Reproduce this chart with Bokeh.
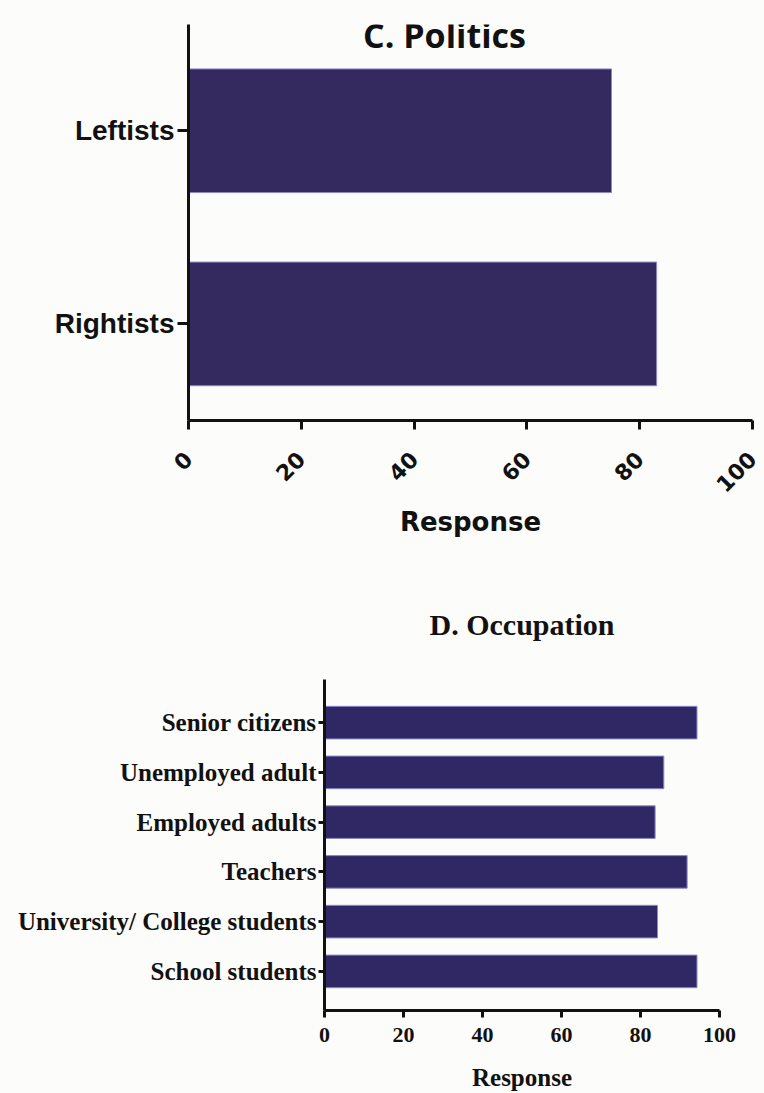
import math
from bokeh.plotting import figure
from bokeh.models import Range1d, FixedTicker, Label
from bokeh.layouts import column
from bokeh.embed import file_html
from bokeh.resources import INLINE

# ---------------- data ----------------
politics_categories = ["Leftists", "Rightists"]          # listed top to bottom
politics_values = [75, 83]

occupation_categories = ["Senior citizens", "Unemployed adult", "Employed adults",
                         "Teachers", "University/ College students", "School students"]
occupation_values = [94.3, 85.9, 83.7, 91.8, 84.3, 94.3]

x_ticks = [0, 20, 40, 60, 80, 100]
politics_title = "C. Politics"
occupation_title = "D. Occupation"
x_label = "Response"

BG = "#fcfcfa"
INK = "#111111"

# ---------------- C. Politics ----------------
n1 = len(politics_categories)
y1 = [n1 - 1 - i for i in range(n1)]
p1 = figure(width=764, height=552, output_backend="svg", toolbar_location=None,
            x_range=Range1d(0, 100), y_range=Range1d(-0.5, n1 - 0.5 + 0.05),
            min_border_left=188, min_border_right=12, min_border_top=24, min_border_bottom=132)
p1.frame_align = False
p1.hbar(y=y1, left=0, right=politics_values, height=0.64,
        fill_color="#352a60", line_color="#8c88c8", line_width=1)
p1.background_fill_color = BG
p1.border_fill_color = BG
p1.outline_line_color = None
p1.grid.visible = False

xa = p1.xaxis[0]
xa.ticker = FixedTicker(ticks=x_ticks)
xa.major_label_orientation = math.pi / 4
xa.major_label_text_font = "DejaVu Sans"
xa.major_label_text_font_style = "bold"
xa.major_label_text_font_size = "22px"
xa.major_label_text_color = INK
xa.major_label_standoff = 26
xa.axis_label = x_label
xa.axis_label_text_font = "DejaVu Sans"
xa.axis_label_text_font_style = "bold"
xa.axis_label_text_font_size = "26px"
xa.axis_label_text_color = INK
xa.axis_label_standoff = 5
xa.axis_line_width = 3
xa.axis_line_color = INK
xa.major_tick_line_width = 3
xa.major_tick_line_color = INK
xa.major_tick_out = 9
xa.major_tick_in = 0
xa.minor_tick_line_color = None

ya = p1.yaxis[0]
ya.ticker = FixedTicker(ticks=y1)
ya.major_label_overrides = {y: c for y, c in zip(y1, politics_categories)}
ya.major_label_text_font = "Liberation Sans"
ya.major_label_text_font_style = "bold"
ya.major_label_text_font_size = "28px"
ya.major_label_text_color = INK
ya.major_label_standoff = 3
ya.axis_line_width = 3
ya.axis_line_color = INK
ya.major_tick_line_width = 3
ya.major_tick_line_color = INK
ya.major_tick_out = 11
ya.major_tick_in = 0
ya.minor_tick_line_color = None

# title sitting at the top of the frame (screen units, relative to the frame)
p1.add_layout(Label(x=256, y=386, x_units="screen", y_units="screen", text=politics_title,
                    text_align="center", text_baseline="alphabetic",
                    text_font="Open Sans", text_font_style="bold",
                    text_font_size="34px", text_color=INK))

# ---------------- D. Occupation ----------------
n2 = len(occupation_categories)
y2 = [n2 - 1 - i for i in range(n2)]
p2 = figure(width=764, height=541, output_backend="svg", toolbar_location=None,
            x_range=Range1d(0, 100), y_range=Range1d(-0.786, n2 - 1 + 0.867),
            min_border_left=324, min_border_right=45, min_border_top=127, min_border_bottom=83)
p2.frame_align = False
p2.hbar(y=y2, left=0, right=occupation_values, height=0.655,
        fill_color="#2f2865", line_color="#8c88c8", line_width=1)
p2.background_fill_color = BG
p2.border_fill_color = BG
p2.outline_line_color = None
p2.grid.visible = False

p2.title.text = occupation_title
p2.title.align = "center"
p2.title.text_font = "Liberation Serif"
p2.title.text_font_style = "bold"
p2.title.text_font_size = "30px"
p2.title.text_color = INK
p2.title.standoff = 78

xb = p2.xaxis[0]
xb.ticker = FixedTicker(ticks=x_ticks)
xb.major_label_text_font = "Liberation Serif"
xb.major_label_text_font_style = "bold"
xb.major_label_text_font_size = "22px"
xb.major_label_text_color = INK
xb.major_label_standoff = 10
xb.axis_label = x_label
xb.axis_label_text_font = "Liberation Serif"
xb.axis_label_text_font_style = "bold"
xb.axis_label_text_font_size = "25px"
xb.axis_label_text_color = INK
xb.axis_label_standoff = 19
xb.axis_line_width = 3
xb.axis_line_color = INK
xb.major_tick_line_width = 3
xb.major_tick_line_color = INK
xb.major_tick_out = 7
xb.major_tick_in = 0
xb.minor_tick_line_color = None

yb = p2.yaxis[0]
yb.ticker = FixedTicker(ticks=y2)
yb.major_label_overrides = {y: c for y, c in zip(y2, occupation_categories)}
yb.major_label_text_font = "Liberation Serif"
yb.major_label_text_font_style = "bold"
yb.major_label_text_font_size = "25px"
yb.major_label_text_color = INK
yb.major_label_standoff = 2
yb.axis_line_width = 3
yb.axis_line_color = INK
yb.major_tick_line_width = 3
yb.major_tick_line_color = INK
yb.major_tick_out = 6
yb.major_tick_in = 0
yb.minor_tick_line_color = None

layout = column(p1, p2, spacing=0)
layout.styles = {"background-color": BG}
open("out.html", "w").write(file_html(layout, INLINE))
